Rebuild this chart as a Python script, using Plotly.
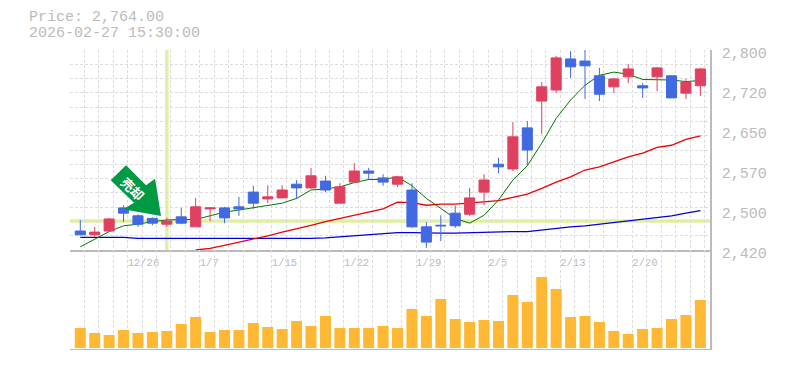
import plotly.graph_objects as go

open_ = [2456,2449,2456,2500,2485,2480,2469,2483,2464,2498,2500,2502,2530,2517,2519,2545,2538,2551,2509,2549,2570,2557,2545,2534,2464,2467,2490,2488,2530,2583,2574,2652,2703,2724,2783,2779,2751,2730,2749,2732,2749,2751,2718,2732]
high = [2477,2464,2481,2505,2488,2482,2481,2500,2519,2500,2502,2521,2542,2543,2543,2553,2576,2561,2547,2585,2576,2564,2561,2547,2473,2486,2504,2538,2564,2595,2663,2665,2739,2789,2798,2800,2766,2747,2773,2737,2768,2752,2745,2766]
low = [2448,2445,2456,2473,2464,2467,2464,2469,2464,2475,2471,2485,2498,2509,2519,2517,2536,2530,2509,2549,2553,2542,2540,2462,2424,2437,2462,2485,2505,2566,2570,2580,2640,2718,2747,2707,2703,2718,2737,2709,2722,2709,2707,2713]
close = [2449,2454,2479,2490,2469,2471,2475,2471,2502,2500,2481,2498,2509,2521,2534,2538,2561,2534,2540,2570,2566,2549,2559,2464,2435,2466,2466,2519,2553,2578,2635,2610,2730,2785,2768,2770,2716,2745,2764,2728,2766,2709,2739,2764]
ma_short = [2426,2440,2455,2466,2469,2474,2477,2478,2478,2485,2492,2496,2500,2504,2509,2518,2534,2536,2540,2548,2554,2554,2559,2542,2518,2499,2480,2471,2486,2515,2553,2580,2623,2670,2705,2733,2752,2758,2754,2744,2744,2743,2740,2742]
ma_mid = [None]*8 + [2420,2423,2429,2435,2440,2447,2454,2460,2467,2474,2480,2486,2492,2498,2511,2510,2505,2507,2507,2509,2511,2514,2520,2526,2537,2549,2559,2572,2578,2588,2597,2604,2615,2619,2630,2637]
ma_long = [2444,2444,2444,2444,2442,2442,2441,2441,2441,2441,2441,2441,2441,2441,2442,2442,2442,2443,2445,2447,2450,2451,2453,2453,2452,2452,2452,2453,2454,2454,2455,2455,2458,2462,2464,2466,2469,2472,2475,2478,2482,2485,2490,2495]
volume = [20,15,13,18,15,16,17,24,31,16,18,18,25,21,19,27,22,32,20,20,20,22,20,39,32,49,29,26,28,27,53,46,71,59,31,32,26,17,14,19,20,29,33,48]
tick_index = [4,9,14,19,24,29,34,39]
tick_text = ["12/26","1/7","1/15","1/22","1/29","2/5","2/13","2/20"]
price_ticks = [2420,2496,2572,2648,2724,2800]
price_text = ["2,420","2,500","2,570","2,650","2,720","2,800"]

idx = list(range(len(close)))
PX = 14.42
X0 = -0.714
XR = [X0, X0 + 640/PX]
YR = [2420, 2800]
GRAY = "#bbbbbb"
GRID = "#dddddd"
MONO = "Liberation Mono"
RED = "#e0405f"
BLUE = "#4169e1"
HILITE = "#e2f0a2"
cross_i = 6
cross_p = 2475
ARROW_PATH = "M-40.8,55.7 L-56.1,40.7 L-32.8,18.4 L-43.5,11.7 L-5.8,5 L-11.8,42.4 L-20.8,35.7 Z"

fig = go.Figure()
fig.add_trace(go.Scatter(x=idx, y=ma_long, mode="lines", line=dict(color="#0000dd", width=1.3), yaxis="y"))
fig.add_trace(go.Scatter(x=idx, y=ma_mid, mode="lines", line=dict(color="#ee0000", width=1.3), yaxis="y"))
fig.add_trace(go.Scatter(x=idx, y=ma_short, mode="lines", line=dict(color="#007700", width=1), yaxis="y"))
fig.add_trace(go.Bar(x=idx, y=volume, width=0.763, marker=dict(color="#ffb833", line=dict(width=0)), yaxis="y2"))
fig.add_trace(go.Candlestick(x=idx, open=open_, high=high, low=low, close=close, yaxis="y3", whiskerwidth=0,
    increasing=dict(line=dict(color=RED, width=1), fillcolor=RED),
    decreasing=dict(line=dict(color=BLUE, width=1), fillcolor=BLUE)))

minor_x = [X0 + k for k in range(45)]
minor_y = [YR[0] + (YR[1]-YR[0])*j/14 for j in range(15)]
tickvals_x = [k + X0 + len(t)*3.15/PX for k, t in zip(tick_index, tick_text)]

fig.update_layout(
    width=785, height=370, autosize=False,
    margin=dict(l=70, r=75, t=50, b=20, autoexpand=False),
    paper_bgcolor="white", plot_bgcolor="white",
    showlegend=False, hovermode=False,
    boxgap=0.3, boxgroupgap=0,
    xaxis=dict(range=XR, domain=[0,1], anchor="y", rangeslider=dict(visible=False),
        tickmode="array", tickvals=tickvals_x, ticktext=tick_text, showgrid=False, zeroline=False,
        tickfont=dict(family=MONO, size=10.5, color=GRAY), ticks="outside", ticklen=2, tickcolor="rgba(0,0,0,0)",
        showline=True, linecolor=GRAY, linewidth=1.5,
        minor=dict(tickmode="array", tickvals=minor_x, showgrid=True, griddash="3px,2px", gridcolor=GRID, gridwidth=1, ticks="")),
    yaxis=dict(range=YR, domain=[1/3,1], side="right", anchor="x",
        tickmode="array", tickvals=price_ticks, ticktext=price_text, showgrid=False, zeroline=False,
        tickfont=dict(family=MONO, size=15, color=GRAY), ticks="outside", ticklen=7, tickcolor="rgba(0,0,0,0)",
        ticklabelshift=3, showline=True, linecolor=GRAY, linewidth=1.5,
        minor=dict(tickmode="array", tickvals=minor_y, showgrid=True, griddash="3px,2px", gridcolor=GRID, gridwidth=1, ticks="")),
    yaxis2=dict(range=[-2,98], domain=[0,1/3], side="right", anchor="x", showticklabels=False, showgrid=False,
        zeroline=False, showline=True, linecolor=GRAY, linewidth=1.5, ticks=""),
    yaxis3=dict(range=YR, overlaying="y", side="right", anchor="x", visible=False),
    shapes=[
        dict(type="line", xref="x", yref="y", x0=cross_i, x1=cross_i, y0=YR[0], y1=YR[1], line=dict(color=HILITE, width=3.5), layer="below"),
        dict(type="line", xref="x", yref="y", x0=XR[0], x1=XR[1], y0=cross_p, y1=cross_p, line=dict(color=HILITE, width=3.5), layer="below"),
        dict(type="line", xref="paper", yref="y2", x0=0, x1=1, y0=-2, y1=-2, line=dict(color=GRAY, width=2)),
        dict(type="path", xref="x", yref="y", xsizemode="pixel", ysizemode="pixel", xanchor=cross_i, yanchor=cross_p,
             path=ARROW_PATH, fillcolor="#009944", line=dict(width=0), layer="above"),
    ],
    annotations=[
        dict(text="Price: 2,764.00", xref="paper", yref="paper", x=-43/640, y=1+32/300, xanchor="left", yanchor="middle", showarrow=False, font=dict(family=MONO, size=15, color=GRAY)),
        dict(text="2026-02-27 15:30:00", xref="paper", yref="paper", x=-43/640, y=1+17/300, xanchor="left", yanchor="middle", showarrow=False, font=dict(family=MONO, size=15, color=GRAY)),
        dict(text="<b>売却</b>", x=3.63, y=2537, xref="x", yref="y", showarrow=False, textangle=45, font=dict(family="Noto Sans CJK JP", size=13, color="white")),
    ],
)
fig.write_html("out.html", post_script="document.body.style.margin='0';", config=dict(displayModeBar=False))
